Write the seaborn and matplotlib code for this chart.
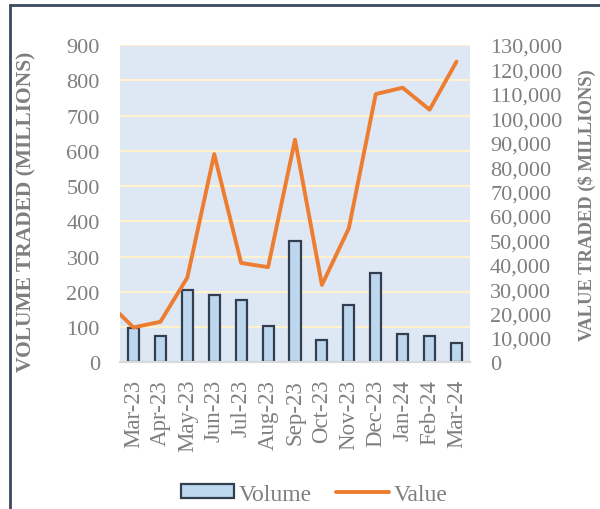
import numpy as np
import pandas as pd
import matplotlib
matplotlib.use("Agg")
import matplotlib.pyplot as plt
from matplotlib.patches import Patch, Rectangle
from matplotlib.lines import Line2D
from matplotlib.ticker import FuncFormatter
import seaborn as sns

# Data
months = ['Mar-23', 'Apr-23', 'May-23', 'Jun-23', 'Jul-23', 'Aug-23', 'Sep-23',
          'Oct-23', 'Nov-23', 'Dec-23', 'Jan-24', 'Feb-24', 'Mar-24']
volume = [97, 74, 206, 191, 176, 104, 343, 63, 163, 254, 80, 75, 55]
value = [14300, 16600, 34700, 85300, 40700, 39000, 91200,
         31700, 54900, 109900, 112500, 103500, 123200]
value_prev = 25100  # Feb-23, only the lead-in segment is visible

sns.set_theme(style="white")
plt.rcParams['font.family'] = ['Liberation Serif', 'DejaVu Serif']

grey = '#7f7f7f'
df = pd.DataFrame({'Month': months, 'Volume': volume})

fig = plt.figure(figsize=(6, 5.1), dpi=100)
ax = fig.add_axes([0.2, 0.2876, 0.5833, 0.6222])
ax.set_facecolor('#dee8f4')

# Volume bars
sns.barplot(data=df, x='Month', y='Volume', ax=ax, color='#bdd7ee',
            edgecolor='#333f50', linewidth=1.6, width=0.41, saturation=1, zorder=3)
ax.set_ylim(0, 900)
ax.set_yticks(range(0, 901, 100))
ax.yaxis.grid(True, color='#fff2cc', linewidth=1.5, zorder=0)
ax.set_axisbelow(True)
ax.set_xlabel('')
ax.set_ylabel('VOLUME TRADED (MILLIONS)', fontsize=15.5, fontweight='bold', color=grey)
ax.yaxis.set_label_coords(-0.24, 0.478)
ax.tick_params(axis='x', labelrotation=90, labelsize=16.5, colors=grey, length=0, pad=12)
ax.tick_params(axis='y', labelsize=16, colors=grey, length=0, pad=14.5)

# Value line on secondary axis
ax2 = ax.twinx()
line_x = np.arange(-1, len(months))
line_y = [value_prev] + value
sns.lineplot(x=line_x, y=line_y, ax=ax2, color='#ed7d31', linewidth=2.8, zorder=4)
ax2.set_ylim(0, 130000)
ax2.set_yticks(range(0, 130001, 10000))
ax2.yaxis.set_major_formatter(FuncFormatter(lambda v, p: f'{int(v):,}'))
ax2.set_ylabel('VALUE TRADED ($ MILLIONS)', fontsize=13.4, fontweight='bold', color=grey)
ax2.yaxis.set_label_coords(1.309, 0.499)
ax2.tick_params(axis='y', labelsize=16, colors=grey, length=0, pad=14.5)
ax.set_xlim(-0.5, len(months) - 0.5)

for a in (ax, ax2):
    for s in ('top', 'left', 'right'):
        a.spines[s].set_visible(False)
    a.spines['bottom'].set_color('#d9d9d9')
    a.spines['bottom'].set_linewidth(1.5)

# Legend
handles = [Patch(facecolor='#bdd7ee', edgecolor='#333f50', linewidth=1.6, label='Volume'),
           Line2D([0], [0], color='#ed7d31', linewidth=2.8, label='Value')]
leg = fig.legend(handles=handles, loc='center', bbox_to_anchor=(0.524, 0.029), ncol=2,
                 frameon=False, fontsize=17, handlelength=2.25, columnspacing=1.0,
                 handletextpad=0.2, handleheight=0.55)
for t in leg.get_texts():
    t.set_color(grey)

# Outer frame (only left and top edges fall inside the picture)
fig.patches.append(Rectangle((10 / 600, -0.1), 1.2, 1 - 6 / 510 + 0.1,
                             transform=fig.transFigure, fill=False,
                             edgecolor='#3b4a5e', linewidth=2))

fig.savefig('out.png', dpi=100)
